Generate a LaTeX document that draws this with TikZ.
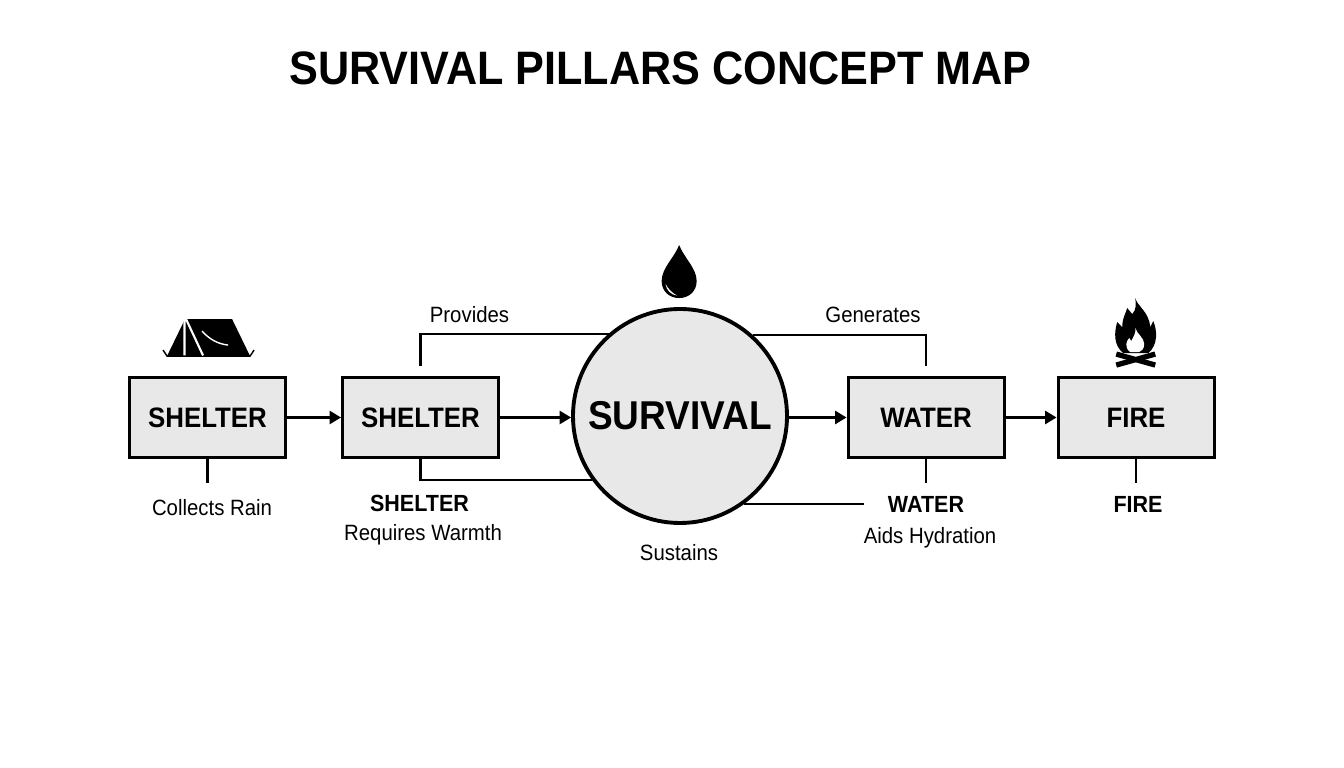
\documentclass[tikz,border=0pt]{standalone}
\usepackage{fontspec}
\setmainfont{Liberation Sans}[FakeStretch=0.92]
\usetikzlibrary{arrows.meta}

\tikzset{
	pillar/.style={shape=rectangle,draw=black,line width=1.7pt,fill=boxgray,minimum width=3.12cm,minimum height=1.6cm,inner sep=0pt,font=\fontsize{16}{18}\selectfont\bfseries},
	hub/.style={shape=circle,draw=black,line width=2.2pt,fill=boxgray,minimum size=4.28cm,inner sep=0pt,font=\fontsize{22.9}{26}\selectfont\bfseries},
	link/.style={line width=1.15pt},
	flow/.style={line width=1.15pt,-{Triangle[length=6.5pt,width=7.5pt]}},
	caption/.style={font=\fontsize{12.6}{15}\selectfont},
	heading/.style={font=\fontsize{13.3}{15}\selectfont\bfseries}
}
\definecolor{boxgray}{HTML}{E8E8E8}

\begin{document}
\begin{tikzpicture}
	\useasboundingbox (0,0) rectangle (26.88,15.36);
	\node [font=\fontsize{26.7}{30}\selectfont\bfseries] (title) at (13.21,14) {SURVIVAL PILLARS CONCEPT MAP};

	\node [pillar] (shelterA) at (4.15,7.01) {SHELTER};
	\node [pillar] (shelterB) at (8.41,7.01) {SHELTER};
	\node [hub] (survival) at (13.6,7.04) {SURVIVAL};
	\node [pillar] (water) at (18.52,7.01) {WATER};
	\node [pillar] (fire) at (22.72,7.01) {FIRE};

	\node [caption] (provides) at (9.39,9.06) {Provides};
	\node [caption] (generates) at (17.46,9.06) {Generates};
	\node [caption] (rain) at (4.24,5.2) {Collects Rain};
	\node [heading] (shelterLabel) at (8.39,5.3) {SHELTER};
	\node [caption] (warmth) at (8.46,4.66) {Requires Warmth};
	\node [caption] (sustains) at (13.58,4.3) {Sustains};
	\node [heading] (waterLabel) at (18.52,5.28) {WATER};
	\node [caption] (hydration) at (18.6,4.6) {Aids Hydration};
	\node [heading] (fireLabel) at (22.76,5.28) {FIRE};

	\coordinate (providesEnd) at (8.41,8.04);
	\coordinate (generatesEnd) at (18.52,8.04);
	\coordinate (rainEnd) at (4.15,5.7);
	\coordinate (waterEnd) at (18.52,5.7);
	\coordinate (fireEnd) at (22.72,5.7);
	\coordinate (sustainsEnd) at (17.28,5.3);

	\path [flow] (shelterA) edge (shelterB);
	\path [flow] (shelterB) edge (survival.west |- shelterB);
	\path [flow] (survival.east |- water) edge (water);
	\path [flow] (water) edge (fire);

	\draw [link] (providesEnd) |- (survival.131.4);
	\draw [link] (survival.48.6) -| (generatesEnd);
	\draw [link] (shelterB.south) |- (survival.216.9);
	\draw [link] (survival.306.3) -- (survival.306.3 -| sustainsEnd);
	\draw [link] (shelterA.south) -- (rainEnd);
	\draw [link] (water.south) -- (waterEnd);
	\draw [link] (fire.south) -- (fireEnd);

	% icons, in pixels of the page
	\begin{scope}[x=0.02cm,y=-0.02cm,yshift=15.36cm]
		% tent
		\fill (185,319) -- (232,319) -- (250,356) -- (167,356) -- cycle;
		\draw [line width=0.8pt] (163,350) -- (167,356) -- (250,356) -- (254,350);
		\draw [white,line width=1.2pt] (184.5,319) -- (184.5,355.4) (186,319) -- (203,355.4);
		\draw [white,line width=0.8pt] (202,331) .. controls (209,339) and (218,344) .. (228,345);
		% drop
		\fill (679,245) .. controls (674,258) and (661.5,268) .. (661.5,281) .. controls (661.5,291) and (669,298) .. (679,298) .. controls (689,298) and (696.5,291) .. (696.5,281) .. controls (696.5,268) and (684,258) .. (679,245) -- cycle;
		\fill [white] (665.5,284) .. controls (666,290) and (671,295) .. (677,295.5) .. controls (672,293) and (668,289) .. (665.5,284) -- cycle;
		% flame
		\fill (1135,298) .. controls (1137,306) and (1149,312) .. (1150,327) -- (1153,321) .. controls (1157,330) and (1158,345) .. (1148,353) -- (1123,353) .. controls (1113,345) and (1114,332) .. (1117,322) -- (1122,327) .. controls (1122,318) and (1126,312) .. (1127,308) -- (1132,314) .. controls (1136,310) and (1136,304) .. (1135,298) -- cycle;
		\fill [white] (1135,328) .. controls (1137,334) and (1144,338) .. (1144,344) .. controls (1144,349) and (1141,351) .. (1139,352) -- (1130,352) .. controls (1127,350) and (1126,347) .. (1126,344) .. controls (1126,341) and (1128,340) .. (1129,338) -- (1131,341) .. controls (1133,337) and (1136,333) .. (1135,328) -- cycle;
		% logs
		\draw [line width=3pt] (1116,365) -- (1155,354);
		\draw [line width=3pt] (1116,354) -- (1155,365);
	\end{scope}
\end{tikzpicture}
\end{document}
